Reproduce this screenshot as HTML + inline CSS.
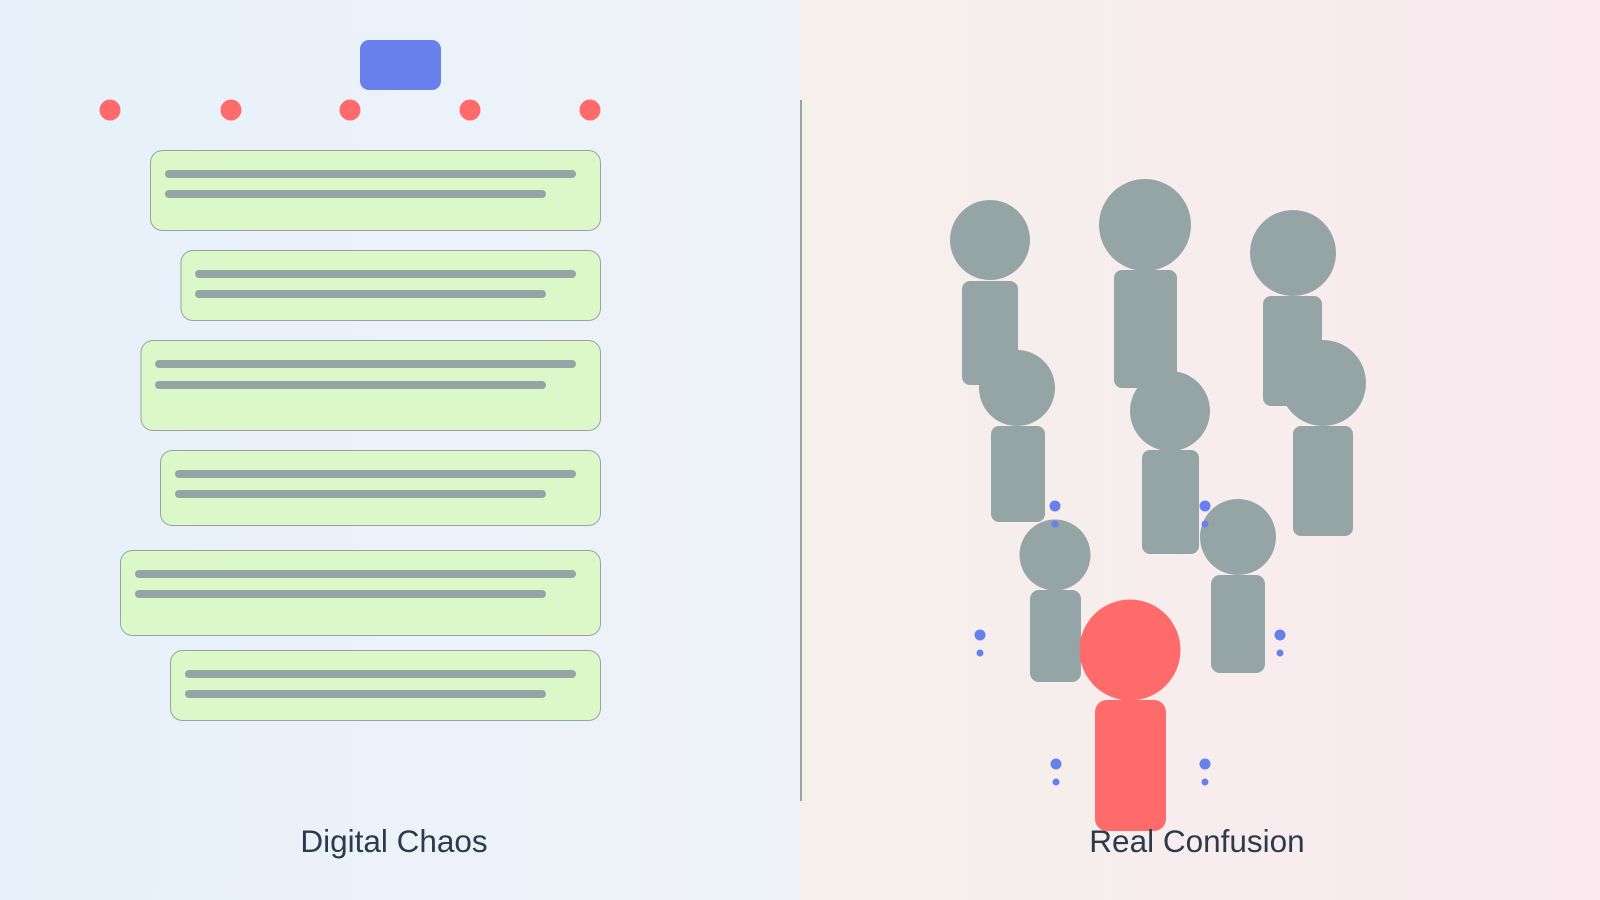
<!DOCTYPE html>
<html><head><meta charset="utf-8"><style>
body{margin:0}
svg{display:block}
</style></head><body>
<svg width="1600" height="900" viewBox="0 0 1600 900" xmlns="http://www.w3.org/2000/svg">
<defs>
<linearGradient id="gl" x1="0" x2="1"><stop offset="0" stop-color="#e7f0fa"/><stop offset="1" stop-color="#eff3f8"/></linearGradient>
<linearGradient id="gr" x1="0" x2="1"><stop offset="0" stop-color="#f5f0ec"/><stop offset="1" stop-color="#f9e9ef"/></linearGradient>
</defs>
<rect x="0" y="0" width="800" height="900" fill="url(#gl)"/>
<rect x="800" y="0" width="800" height="900" fill="url(#gr)"/>
<rect x="360" y="40" width="81" height="50" rx="9" fill="#6880ec"/>
<g fill="#ff6b6b">
<circle cx="110" cy="110" r="10.5"/><circle cx="231" cy="110" r="10.5"/><circle cx="350" cy="110" r="10.5"/><circle cx="470" cy="110" r="10.5"/><circle cx="590" cy="110" r="10.5"/>
</g>
<g fill="#ddf8c8" stroke="#95a5a5" stroke-width="1">
<rect x="150.5" y="150.5" width="450" height="80" rx="12"/>
<rect x="181" y="250.5" width="419.5" height="70" rx="12"/>
<rect x="141" y="340.5" width="459.5" height="90" rx="12"/>
<rect x="160.5" y="450.5" width="440" height="75" rx="12"/>
<rect x="120.5" y="550.5" width="480" height="85" rx="12"/>
<rect x="170.5" y="650.5" width="430" height="70" rx="12"/>
</g>
<g stroke="#95a5a5" stroke-width="8" stroke-linecap="round">
<line x1="169" y1="174" x2="572" y2="174"/><line x1="169" y1="194" x2="542" y2="194"/>
<line x1="199" y1="274" x2="572" y2="274"/><line x1="199" y1="294" x2="542" y2="294"/>
<line x1="159" y1="364" x2="572" y2="364"/><line x1="159" y1="385" x2="542" y2="385"/>
<line x1="179" y1="474" x2="572" y2="474"/><line x1="179" y1="494" x2="542" y2="494"/>
<line x1="139" y1="574" x2="572" y2="574"/><line x1="139" y1="594" x2="542" y2="594"/>
<line x1="189" y1="674" x2="572" y2="674"/><line x1="189" y1="694" x2="542" y2="694"/>
</g>
<line x1="801" y1="100" x2="801" y2="801" stroke="#95a5a5" stroke-width="2"/>
<g fill="#95a5a5">
<circle cx="990" cy="240" r="40"/><rect x="962" y="281" width="56" height="104" rx="8"/>
<circle cx="1145" cy="225" r="46"/><rect x="1114" y="270" width="63" height="118" rx="8"/>
<circle cx="1293" cy="253" r="43"/><rect x="1263" y="296" width="59" height="110" rx="8"/>
<circle cx="1017" cy="388" r="38"/><rect x="991" y="426" width="54" height="96" rx="8"/>
<circle cx="1170" cy="411" r="40"/><rect x="1142" y="450" width="57" height="104" rx="8"/>
<circle cx="1323" cy="383" r="43"/><rect x="1293" y="426" width="60" height="110" rx="8"/>
<circle cx="1055" cy="555" r="35.5"/><rect x="1030" y="590" width="51" height="92" rx="9"/>
<circle cx="1238" cy="537" r="38"/><rect x="1211" y="575" width="54" height="98" rx="9"/>
</g>
<g fill="#ff6b6b">
<circle cx="1130" cy="650" r="50.5"/><rect x="1095" y="700" width="71" height="131" rx="12"/>
</g>
<g fill="#6880ec">
<circle cx="1055" cy="506" r="5.5"/><circle cx="1055" cy="524" r="3.5"/>
<circle cx="1205" cy="506" r="5.5"/><circle cx="1205" cy="524" r="3.5"/>
<circle cx="980" cy="635" r="5.5"/><circle cx="980" cy="653" r="3.5"/>
<circle cx="1280" cy="635" r="5.5"/><circle cx="1280" cy="653" r="3.5"/>
<circle cx="1056" cy="764" r="5.5"/><circle cx="1056" cy="782" r="3.5"/>
<circle cx="1205" cy="764" r="5.5"/><circle cx="1205" cy="782" r="3.5"/>
</g>
<g font-family="Liberation Sans, sans-serif" font-size="31.5" fill="#2d3a4a" text-anchor="middle">
<text x="394" y="852">Digital Chaos</text>
<text x="1197" y="852">Real Confusion</text>
</g>
</svg>
</body></html>
